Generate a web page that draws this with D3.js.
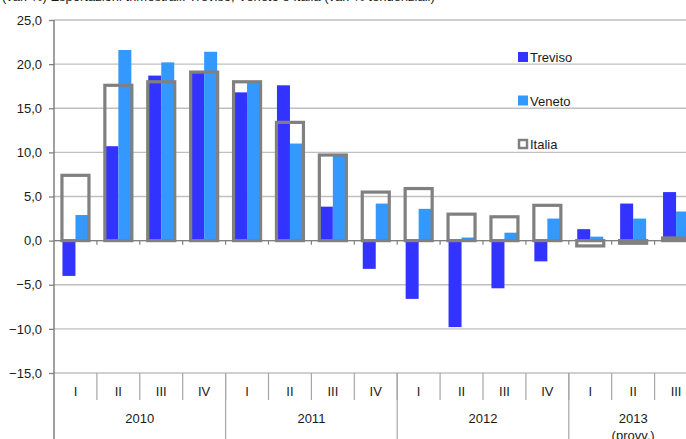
<!DOCTYPE html>
<html lang="it">
<head>
<meta charset="utf-8">
<title>Treviso Veneto Italia</title>
<script src="https://d3js.org/d3.v7.min.js"></script>
<style>
  body { margin: 0; background: #fff; }
  svg { display: block; }
  text { font-family: "Liberation Sans", Arial, sans-serif; fill: #1a1a1a; }
</style>
</head>
<body>
<div id="chart"></div>
<script>
// data
var quarters = ["I","II","III","IV","I","II","III","IV","I","II","III","IV","I","II","III"];
var years = [
  {label: ["2010"], from: 0, to: 4},
  {label: ["2011"], from: 4, to: 8},
  {label: ["2012"], from: 8, to: 12},
  {label: ["2013", "(provv.)"], from: 12, to: 15}
];
var treviso = [-4.0, 10.7, 18.7, 19.0, 16.8, 17.6, 3.85, -3.2, -6.6, -9.8, -5.4, -2.35, 1.3, 4.2, 5.5];
var veneto  = [2.9, 21.6, 20.2, 21.4, 17.9, 11.0, 9.6, 4.2, 3.6, 0.35, 0.9, 2.5, 0.45, 2.5, 3.3];
var italia  = [7.4, 17.6, 18.0, 19.1, 18.0, 13.4, 9.7, 5.5, 5.9, 3.0, 2.7, 4.0, -0.6, -0.3, 0.3];
var yTicks = [-15, -10, -5, 0, 5, 10, 15, 20, 25];

var W = 686, H = 439;
var plotLeft = 54, plotTop = 20, plotBottom = 373;

var svg = d3.select("#chart").append("svg")
  .attr("width", W).attr("height", H);

// heading, cut off at the top edge as in the original
svg.append("text")
  .attr("x", 2).attr("y", 1)
  .style("font-size", "13px")
  .text("(var. %) Esportazioni trimestrali: Treviso, Veneto e Italia (var. % tendenziali)");

var y = d3.scaleLinear().domain([-15, 25]).range([plotBottom, plotTop]);
var x = d3.scaleBand().domain(d3.range(quarters.length))
  .range([plotLeft, plotLeft + 42.9 * quarters.length]).padding(0);
var bw = 13;

// gridlines
svg.append("g").selectAll("line").data(yTicks).enter().append("line")
  .attr("x1", plotLeft).attr("x2", W)
  .attr("y1", function(d) { return y(d); })
  .attr("y2", function(d) { return y(d); })
  .attr("stroke", "#c0c0c0").attr("stroke-width", 1.3);

// y axis
var yAxis = d3.axisLeft(y).tickValues(yTicks).tickSize(5).tickPadding(7)
  .tickFormat(function(d) { return d3.format(".1f")(d).replace(".", ","); });
var gy = svg.append("g").attr("transform", "translate(" + plotLeft + ",0)").call(yAxis);
gy.select(".domain").remove();
gy.selectAll(".tick line").attr("stroke", "#808080").attr("stroke-width", 1.3);
gy.selectAll(".tick text").style("font-size", "13px").attr("fill", "#1a1a1a")
  .attr("font-family", null);

// bars
function center(i) { return x(i) + x.bandwidth() / 2; }

svg.append("g").selectAll("rect").data(treviso).enter().append("rect")
  .attr("x", function(d, i) { return center(i) - bw; })
  .attr("width", bw)
  .attr("y", function(d) { return y(Math.max(0, d)); })
  .attr("height", function(d) { return Math.abs(y(d) - y(0)); })
  .attr("fill", "#3333ff");

svg.append("g").selectAll("rect").data(veneto).enter().append("rect")
  .attr("x", function(d, i) { return center(i); })
  .attr("width", bw)
  .attr("y", function(d) { return y(Math.max(0, d)); })
  .attr("height", function(d) { return Math.abs(y(d) - y(0)); })
  .attr("fill", "#3399ff");

svg.append("g").selectAll("rect").data(italia).enter().append("rect")
  .attr("x", function(d, i) { return center(i) - 13.5; })
  .attr("width", 27)
  .attr("y", function(d) { return y(Math.max(0, d)); })
  .attr("height", function(d) { return Math.abs(y(d) - y(0)); })
  .attr("fill", "none")
  .attr("stroke", "#808080").attr("stroke-width", 3.2);

// zero line with small ticks
svg.append("line")
  .attr("x1", plotLeft).attr("x2", W).attr("y1", y(0)).attr("y2", y(0))
  .attr("stroke", "#808080").attr("stroke-width", 1.3);
svg.append("g").selectAll("line").data(d3.range(1, quarters.length)).enter().append("line")
  .attr("x1", function(i) { return x(i); }).attr("x2", function(i) { return x(i); })
  .attr("y1", y(0)).attr("y2", y(0) + 4)
  .attr("stroke", "#808080").attr("stroke-width", 1.2);

// category axis
svg.append("g").selectAll("line").data(d3.range(1, quarters.length)).enter().append("line")
  .attr("x1", function(i) { return x(i); }).attr("x2", function(i) { return x(i); })
  .attr("y1", plotBottom).attr("y2", 400)
  .attr("stroke", "#a6a6a6").attr("stroke-width", 1.2);
svg.append("g").selectAll("line").data(years.slice(1)).enter().append("line")
  .attr("x1", function(d) { return x(d.from); }).attr("x2", function(d) { return x(d.from); })
  .attr("y1", plotBottom).attr("y2", H)
  .attr("stroke", "#a6a6a6").attr("stroke-width", 1.2);

svg.append("g").selectAll("text").data(quarters).enter().append("text")
  .attr("x", function(d, i) { return center(i); })
  .attr("y", 396)
  .attr("text-anchor", "middle")
  .style("font-size", "13px")
  .text(function(d) { return d; });

var yl = svg.append("g").selectAll("text").data(years).enter().append("text")
  .attr("x", function(d) { return (x(d.from) + x(d.to - 1) + x.bandwidth()) / 2; })
  .attr("y", 423)
  .attr("text-anchor", "middle")
  .style("font-size", "13px");
yl.selectAll("tspan").data(function(d) { return d.label; }).enter().append("tspan")
  .attr("x", function() { return d3.select(this.parentNode).attr("x"); })
  .attr("dy", function(d, i) { return i ? 17 : 0; })
  .text(function(d) { return d; });

// left axis line
svg.append("line")
  .attr("x1", plotLeft).attr("x2", plotLeft).attr("y1", plotTop).attr("y2", H)
  .attr("stroke", "#808080").attr("stroke-width", 1.5);

// legend
var legend = [
  {name: "Treviso", color: "#3333ff", box: false},
  {name: "Veneto", color: "#3399ff", box: false},
  {name: "Italia", color: "#808080", box: true}
];
var lg = svg.append("g").selectAll("g").data(legend).enter().append("g")
  .attr("transform", function(d, i) { return "translate(518," + (52 + i * 43.5) + ")"; });
lg.append("rect")
  .attr("x", function(d) { return d.box ? 1 : 0; })
  .attr("y", function(d) { return d.box ? 1 : 0; })
  .attr("width", function(d) { return d.box ? 8 : 10; })
  .attr("height", function(d) { return d.box ? 8 : 10; })
  .attr("fill", function(d) { return d.box ? "#fff" : d.color; })
  .attr("stroke", function(d) { return d.box ? d.color : "none"; })
  .attr("stroke-width", 2.5);
lg.append("text")
  .attr("x", 12).attr("y", 10)
  .style("font-size", "13px")
  .text(function(d) { return d.name; });
</script>
</body>
</html>
